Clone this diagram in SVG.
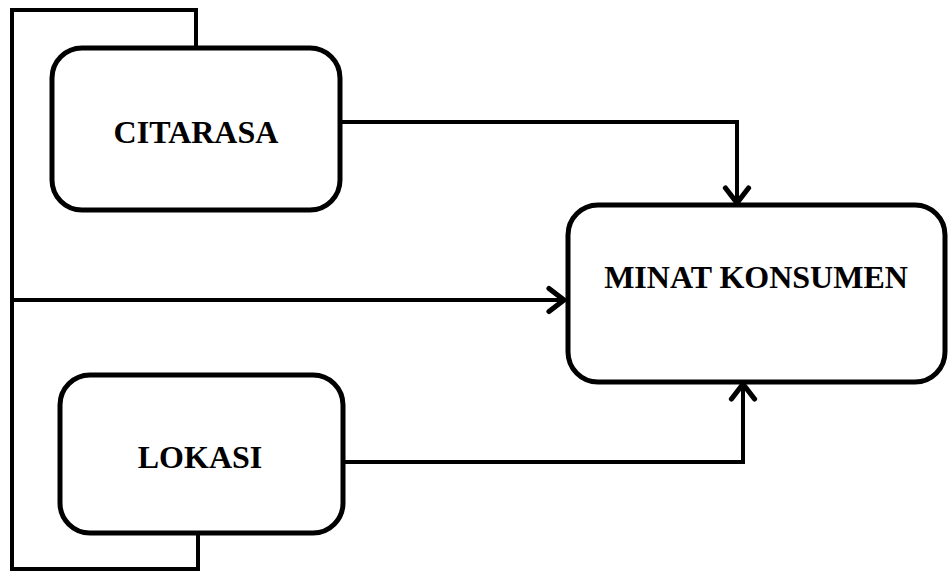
<svg xmlns="http://www.w3.org/2000/svg" width="948" height="572" viewBox="0 0 948 572">
<style>
.box{fill:#fff;stroke:#000;stroke-width:5}
.lbl{font-family:"Liberation Serif","Times New Roman",serif;font-weight:bold;font-size:32px;fill:#000;text-anchor:middle}
.con{fill:none;stroke:#000;stroke-width:4;stroke-linejoin:miter}
</style>
<defs>
<marker id="arr" markerUnits="userSpaceOnUse" markerWidth="30" markerHeight="30" viewBox="-16 -13 20 26" refX="0" refY="0" orient="auto">
<path d="M-13,-10 L0,0 L-13,10" fill="none" stroke="#000" stroke-width="4.5" stroke-linecap="round" stroke-linejoin="round"/>
</marker>
</defs>
<rect width="948" height="572" fill="#fff"/>
<g id="connectors">
<path class="con" d="M196,48 V10 H12 V569 H198 V533"/>
<path class="con" d="M12,300 H564" marker-end="url(#arr)"/>
<path class="con" d="M340,122 H737 V203" marker-end="url(#arr)"/>
<path class="con" d="M343,462 H743 V384" marker-end="url(#arr)"/>
</g>
<g id="citarasa">
<rect class="box" x="52" y="48" width="288" height="162" rx="30"/>
<text class="lbl" x="196" y="143">CITARASA</text>
</g>
<g id="lokasi">
<rect class="box" x="60" y="375" width="283" height="158" rx="30"/>
<text class="lbl" x="200" y="468">LOKASI</text>
</g>
<g id="minat">
<rect class="box" x="568" y="205" width="377" height="177" rx="30"/>
<text class="lbl" x="756" y="288">MINAT KONSUMEN</text>
</g>
</svg>
